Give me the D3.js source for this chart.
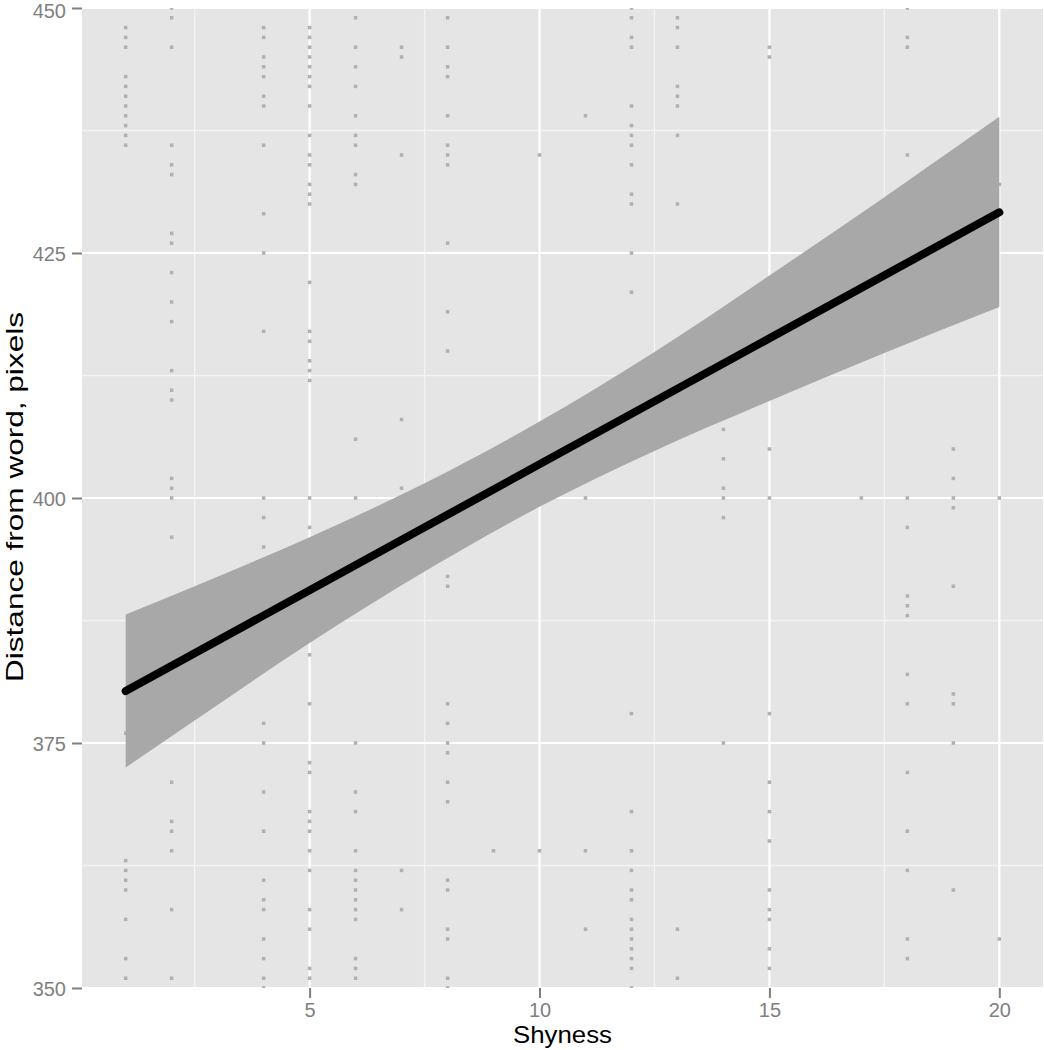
<!DOCTYPE html>
<html>
<head>
<meta charset="utf-8">
<script src="https://cdn.jsdelivr.net/npm/d3@7"></script>
<style>
  html, body { margin: 0; padding: 0; background: #ffffff; }
  svg { display: block; }
  text { font-family: "Liberation Sans", Arial, sans-serif; }
</style>
</head>
<body>
<script>
// ---- data ----
const shynessLevels = [1, 2, 4, 5, 6, 7, 8, 9, 10, 11, 12, 13, 14, 15, 17, 18, 19, 20];
const distanceByShyness = [
  [448, 447, 446, 443, 442, 441, 440, 439, 438, 437, 436, 376, 363, 362, 361, 360, 357, 353, 351],
  [450, 449, 446, 436, 434, 433, 427, 426, 423, 420, 418, 413, 411, 410, 402, 401, 400, 396, 371, 367, 366, 364, 358, 351],
  [448, 447, 445, 444, 443, 441, 440, 436, 429, 425, 417, 400, 398, 395, 377, 375, 370, 366, 361, 359, 358, 355, 353, 351, 350],
  [448, 447, 446, 445, 444, 443, 442, 440, 437, 435, 434, 432, 431, 430, 422, 417, 416, 414, 413, 412, 400, 397, 384, 379, 373, 372, 368, 367, 366, 364, 362, 358, 356, 352, 351],
  [449, 446, 444, 442, 439, 437, 436, 433, 432, 406, 400, 375, 370, 368, 364, 362, 361, 360, 359, 358, 357, 353, 352, 351],
  [446, 445, 435, 408, 401, 362, 358],
  [449, 446, 444, 443, 439, 436, 435, 434, 426, 419, 415, 392, 391, 379, 377, 375, 374, 371, 369, 361, 360, 356, 355, 351, 350],
  [364],
  [435, 364],
  [439, 400, 364, 356],
  [450, 449, 447, 446, 440, 438, 437, 436, 434, 431, 430, 425, 421, 378, 368, 364, 362, 360, 359, 357, 356, 355, 354, 353, 352, 350],
  [449, 448, 446, 442, 441, 440, 437, 430, 356, 351],
  [407, 404, 401, 400, 398, 375],
  [446, 445, 405, 400, 378, 371, 368, 365, 360, 358, 357, 354, 352],
  [400],
  [450, 447, 446, 435, 400, 397, 390, 389, 388, 382, 379, 372, 366, 362, 355, 353],
  [405, 402, 400, 399, 391, 380, 379, 375, 360],
  [432, 400, 355]
];
// linear fit and its confidence band
const fitShyness = [1, 20];
const fitDistance = [380.3, 429.15];
const bandShyness = [1, 2.5, 5, 7.5, 10, 12.5, 15, 17.5, 20];
const bandLower = [372.5, 377.3, 385.2, 392.5, 399.1, 404.8, 409.9, 414.8, 419.5];
const bandUpper = [388.1, 391.0, 396.0, 401.5, 407.8, 414.9, 422.7, 430.7, 438.9];
// axes
const xTicks = [5, 10, 15, 20];
const xMinor = [2.5, 7.5, 12.5, 17.5];
const yTicks = [350, 375, 400, 425, 450];
const yMinor = [362.5, 387.5, 412.5, 437.5];
const xTitle = "Shyness";
const yTitle = "Distance from word, pixels";

// ---- drawing ----
const W = 1044, H = 1050;
const panel = { left: 82, right: 1043, top: 8, bottom: 988 };

const svg = d3.select("body").append("svg").attr("width", W).attr("height", H);

const x = d3.scaleLinear().domain([0.05, 20.95]).range([panel.left, panel.right]);
const y = d3.scaleLinear().domain([350, 450]).range([panel.bottom, panel.top]);

svg.append("defs").append("clipPath").attr("id", "clip")
  .append("rect")
  .attr("x", panel.left).attr("y", panel.top)
  .attr("width", panel.right - panel.left).attr("height", panel.bottom - panel.top);

svg.append("rect")
  .attr("x", panel.left).attr("y", panel.top)
  .attr("width", panel.right - panel.left).attr("height", panel.bottom - panel.top)
  .attr("fill", "#e5e5e5");

const grid = svg.append("g").attr("clip-path", "url(#clip)");
grid.selectAll(".vmin").data(xMinor).join("line")
  .attr("x1", d => x(d)).attr("x2", d => x(d))
  .attr("y1", panel.top).attr("y2", panel.bottom)
  .attr("stroke", "#f4f4f4").attr("stroke-width", 1.3);
grid.selectAll(".hmin").data(yMinor).join("line")
  .attr("y1", d => y(d)).attr("y2", d => y(d))
  .attr("x1", panel.left).attr("x2", panel.right)
  .attr("stroke", "#f4f4f4").attr("stroke-width", 1.3);
grid.selectAll(".vmaj").data(xTicks).join("line")
  .attr("x1", d => x(d)).attr("x2", d => x(d))
  .attr("y1", panel.top).attr("y2", panel.bottom)
  .attr("stroke", "#ffffff").attr("stroke-width", 2.2);
grid.selectAll(".hmaj").data(yTicks).join("line")
  .attr("y1", d => y(d)).attr("y2", d => y(d))
  .attr("x1", panel.left).attr("x2", panel.right)
  .attr("stroke", "#ffffff").attr("stroke-width", 2.2);

const points = [];
shynessLevels.forEach((s, i) => distanceByShyness[i].forEach(d => points.push({ s, d })));

const plot = svg.append("g").attr("clip-path", "url(#clip)");
plot.selectAll("rect.pt").data(points).join("rect")
  .attr("class", "pt")
  .attr("x", p => x(p.s) - 1.75).attr("y", p => y(p.d) - 1.75)
  .attr("width", 3.5).attr("height", 3.5)
  .attr("fill", "#b3afb0");

const band = bandShyness.map((s, i) => ({ s, lo: bandLower[i], hi: bandUpper[i] }));
plot.append("path")
  .datum(band)
  .attr("fill", "#a8a8a8")
  .attr("d", d3.area().x(b => x(b.s)).y0(b => y(b.lo)).y1(b => y(b.hi)).curve(d3.curveMonotoneX));

plot.append("path")
  .datum(fitShyness.map((s, i) => ({ s, d: fitDistance[i] })))
  .attr("fill", "none").attr("stroke", "#000000").attr("stroke-width", 8)
  .attr("stroke-linecap", "round")
  .attr("d", d3.line().x(p => x(p.s)).y(p => y(p.d)));

// axes
const xAxis = svg.append("g")
  .attr("transform", `translate(0,${panel.bottom})`)
  .call(d3.axisBottom(x).tickValues(xTicks).tickSize(10).tickPadding(5).tickFormat(d3.format("d")));
const yAxis = svg.append("g")
  .attr("transform", `translate(${panel.left},0)`)
  .call(d3.axisLeft(y).tickValues(yTicks).tickSize(10).tickPadding(6).tickFormat(d3.format("d")));
[xAxis, yAxis].forEach(a => {
  a.select(".domain").remove();
  a.selectAll(".tick line").attr("stroke", "#7f7f7f").attr("stroke-width", 2);
  a.selectAll(".tick text").attr("fill", "#7f7f7f").style("font-size", "20px")
    .style("font-family", "'Liberation Sans', Arial, sans-serif");
});
yAxis.selectAll(".tick text").attr("dy", d => d === 450 ? "0.45em" : "0.36em");

svg.append("text")
  .attr("x", (panel.left + panel.right) / 2).attr("y", 1043)
  .attr("text-anchor", "middle").attr("fill", "#000")
  .style("font-size", "24px")
  .attr("textLength", 99).attr("lengthAdjust", "spacingAndGlyphs")
  .text(xTitle);

svg.append("text")
  .attr("transform", `translate(23,${(panel.top + panel.bottom) / 2 - 1}) rotate(-90)`)
  .attr("text-anchor", "middle").attr("fill", "#000")
  .style("font-size", "24px")
  .attr("textLength", 370).attr("lengthAdjust", "spacingAndGlyphs")
  .text(yTitle);
</script>
</body>
</html>
